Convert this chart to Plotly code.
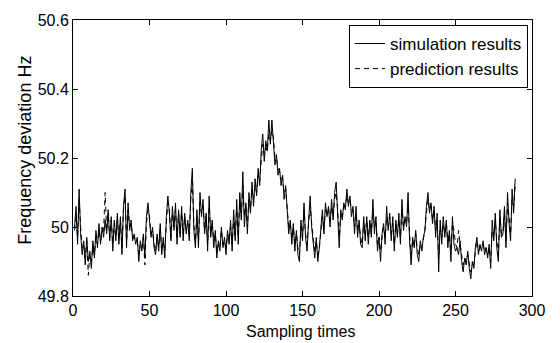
import plotly.graph_objects as go

sim = [
    50.00, 50.06, 49.95, 50.11, 49.98, 49.92, 49.96, 49.89, 49.97, 49.90,
    49.93, 49.88, 49.96, 49.91, 49.99, 49.94, 50.01, 49.95, 50.00, 49.97,
    50.02, 49.98, 50.05, 49.96, 50.03, 49.93, 50.02, 49.96, 50.04, 49.95,
    50.03, 49.92, 50.06, 50.11, 49.94, 50.07, 49.99, 50.02, 49.96, 49.98,
    49.95, 49.97, 49.90, 49.96, 49.93, 49.98, 49.91, 50.03, 50.07, 50.02,
    49.97, 50.00, 49.94, 49.92, 49.98, 49.93, 50.01, 49.92, 49.97, 49.91,
    50.03, 50.09, 50.04, 49.96, 50.06, 49.99, 50.07, 49.95, 50.05, 49.97,
    50.06, 49.96, 50.04, 49.98, 50.02, 49.96, 50.10, 50.17, 49.99, 49.94,
    50.05, 49.94, 50.10, 50.03, 50.08, 49.98, 50.04, 49.93, 50.09, 49.97,
    50.02, 49.94, 49.99, 49.91, 49.96, 49.93, 50.00, 49.94, 49.97, 49.92,
    49.99, 49.95, 50.02, 49.93, 50.05, 49.96, 50.08, 49.95, 50.10, 50.02,
    50.16, 50.00, 50.07, 49.98, 50.10, 50.04, 50.13, 50.06, 50.14, 50.09,
    50.17, 50.12, 50.22, 50.27, 50.19, 50.25, 50.22, 50.31, 50.24, 50.31,
    50.25, 50.18, 50.21, 50.15, 50.17, 50.12, 50.15, 50.08, 50.12, 50.03,
    49.98, 50.02, 49.95, 50.01, 49.93, 49.99, 49.92, 49.90, 50.02, 49.96,
    50.07, 49.97, 49.93, 50.02, 50.09, 50.00, 49.95, 49.91, 49.97, 49.90,
    49.94, 50.00, 50.05, 49.98, 50.07, 50.03, 50.06, 50.00, 50.08, 50.02,
    50.10, 50.13, 50.04, 49.94, 50.05, 50.02, 50.07, 50.05, 50.11, 50.06,
    50.09, 50.03, 50.06, 49.98, 50.06, 49.97, 50.02, 49.95, 49.94, 50.03,
    49.96, 50.03, 49.95, 50.02, 49.97, 50.08, 49.98, 50.03, 49.93, 49.97,
    49.90, 49.98, 50.01, 49.95, 50.06, 49.99, 50.04, 49.96, 50.03, 49.93,
    50.02, 49.97, 50.04, 49.95, 50.08, 49.99, 50.03, 50.00, 50.10, 49.96,
    49.89, 49.97, 49.94, 49.99, 49.92, 49.90, 49.96, 49.93, 49.97, 49.99,
    50.06, 50.10, 50.04, 50.07, 50.01, 50.06, 49.97, 50.04, 49.87, 50.02,
    49.95, 50.03, 49.97, 50.02, 49.94, 49.99, 49.90, 50.03, 49.95, 49.93,
    49.94, 49.92, 49.96, 49.90, 49.87, 49.91, 49.89, 49.93, 49.88, 49.85,
    49.90, 49.88, 49.94, 49.97, 49.92, 49.95, 49.93, 49.96, 49.92, 49.94,
    49.91, 49.95, 49.88, 50.02, 49.96, 50.04, 49.94, 49.90, 50.05, 49.97,
    49.98, 50.06, 49.94, 50.10, 50.01, 49.96, 50.11, 50.04, 50.14,
]

pred = [
    49.99, 50.03, 49.97, 50.08, 50.00, 49.94, 49.95, 49.91, 49.96, 49.86,
    49.92, 49.90, 49.94, 49.92, 49.97, 49.95, 49.99, 49.96, 49.98, 49.99,
    50.10, 49.99, 50.04, 49.97, 50.02, 49.95, 50.01, 49.97, 50.03, 49.96,
    50.02, 49.94, 50.05, 50.09, 49.96, 50.05, 50.00, 50.01, 49.97, 49.97,
    49.96, 49.96, 49.92, 49.95, 49.94, 49.97, 49.89, 50.01, 50.05, 50.03,
    49.98, 49.99, 49.95, 49.93, 49.97, 49.94, 50.00, 49.93, 49.96, 49.93,
    50.01, 50.07, 50.05, 49.97, 50.04, 50.00, 50.05, 49.97, 50.04, 49.98,
    50.04, 49.98, 50.03, 49.99, 50.01, 49.98, 50.08, 50.13, 50.01, 49.96,
    50.03, 49.96, 50.07, 50.04, 50.06, 49.99, 50.03, 49.95, 50.06, 49.98,
    50.01, 49.96, 49.98, 49.93, 49.95, 49.94, 49.99, 49.95, 49.96, 49.94,
    49.98, 49.96, 50.00, 49.95, 50.03, 49.97, 50.05, 49.97, 50.08, 50.03,
    50.12, 50.03, 50.06, 50.00, 50.08, 50.05, 50.11, 50.08, 50.12, 50.10,
    50.15, 50.13, 50.19, 50.24, 50.21, 50.23, 50.22, 50.27, 50.25, 50.28,
    50.26, 50.20, 50.20, 50.17, 50.16, 50.14, 50.14, 50.10, 50.11, 50.05,
    50.00, 50.01, 49.97, 50.00, 49.95, 49.98, 49.94, 49.92, 50.00, 49.97,
    50.05, 49.98, 49.95, 50.01, 50.06, 50.01, 49.97, 49.93, 49.96, 49.92,
    49.94, 49.99, 50.03, 49.99, 50.05, 50.04, 50.05, 50.02, 50.06, 50.03,
    50.08, 50.10, 50.05, 49.97, 50.03, 50.03, 50.06, 50.06, 50.09, 50.07,
    50.08, 50.05, 50.05, 50.00, 50.04, 49.99, 50.01, 49.97, 49.95, 50.01,
    49.98, 50.02, 49.97, 50.01, 49.98, 50.05, 50.00, 50.02, 49.95, 49.97,
    49.93, 49.97, 50.00, 49.97, 50.03, 50.00, 50.03, 49.98, 50.01, 49.95,
    50.01, 49.98, 50.02, 49.97, 50.05, 50.00, 50.02, 50.01, 50.06, 49.98,
    49.92, 49.96, 49.95, 49.98, 49.94, 49.92, 49.95, 49.94, 49.96, 49.99,
    50.04, 50.08, 50.05, 50.06, 50.02, 50.05, 49.99, 50.02, 49.91, 50.00,
    49.97, 50.01, 49.98, 50.01, 49.96, 49.98, 49.93, 50.01, 49.99, 49.95,
    49.94, 49.99, 49.95, 49.92, 49.89, 49.91, 49.90, 49.92, 49.89, 49.87,
    49.89, 49.89, 49.93, 49.96, 49.93, 49.94, 49.94, 49.95, 49.93, 49.94,
    49.92, 49.94, 49.90, 49.99, 49.97, 50.02, 49.96, 49.92, 50.03, 49.98,
    49.98, 50.04, 49.96, 50.07, 50.03, 49.98, 50.08, 50.06, 50.12,
]

samples = list(range(1, len(sim) + 1))
x_ticks = [0, 50, 100, 150, 200, 250, 300]
y_ticks = [49.8, 50.0, 50.2, 50.4, 50.6]
y_tick_labels = ["49.8", "50", "50.2", "50.4", "50.6"]
x_title = "Sampling times"
y_title = "Frequency deviation Hz"

FONT = "Liberation Sans, Arial, sans-serif"

fig = go.Figure()
fig.add_trace(go.Scatter(
    x=samples, y=sim, mode="lines", name="simulation results",
    line=dict(color="black", width=1),
))
fig.add_trace(go.Scatter(
    x=samples, y=pred, mode="lines", name="prediction results",
    line=dict(color="black", width=1, dash="5px,4px"),
))

axis_common = dict(
    showgrid=False, zeroline=False, showline=True, linecolor="black",
    linewidth=1, mirror="allticks", ticks="inside", ticklen=5,
    tickcolor="black", tickfont=dict(family=FONT, size=16, color="black"),
)

fig.update_layout(
    width=560, height=343,
    margin=dict(l=73, r=28, t=15, b=47),
    paper_bgcolor="white", plot_bgcolor="white",
    font=dict(family=FONT, size=16, color="black"),
    showlegend=True,
    legend=dict(
        x=0.9913, y=0.982, xanchor="right", yanchor="top",
        bordercolor="black", borderwidth=1, bgcolor="white",
        font=dict(family=FONT, size=17, color="black"),
        itemwidth=30, tracegroupgap=0,
    ),
    xaxis=dict(range=[0, 300], tickvals=x_ticks, **axis_common),
    yaxis=dict(range=[49.8, 50.6], tickvals=y_ticks, ticktext=y_tick_labels,
               **axis_common),
    annotations=[
        dict(text=x_title, xref="paper", yref="paper", x=0.4946, y=-0.1281,
             xanchor="center", yanchor="middle", showarrow=False, borderpad=0,
             font=dict(family=FONT, size=16, color="black")),
        dict(text=y_title, xref="paper", yref="paper", x=-0.1046, y=0.530,
             xanchor="center", yanchor="middle", showarrow=False, textangle=-90,
             borderpad=0, font=dict(family=FONT, size=18, color="black")),
    ],
)

fig.write_html(
    "out.html",
    config={"displayModeBar": False},
    post_script="document.body.style.margin='0';document.body.style.padding='0';",
)
